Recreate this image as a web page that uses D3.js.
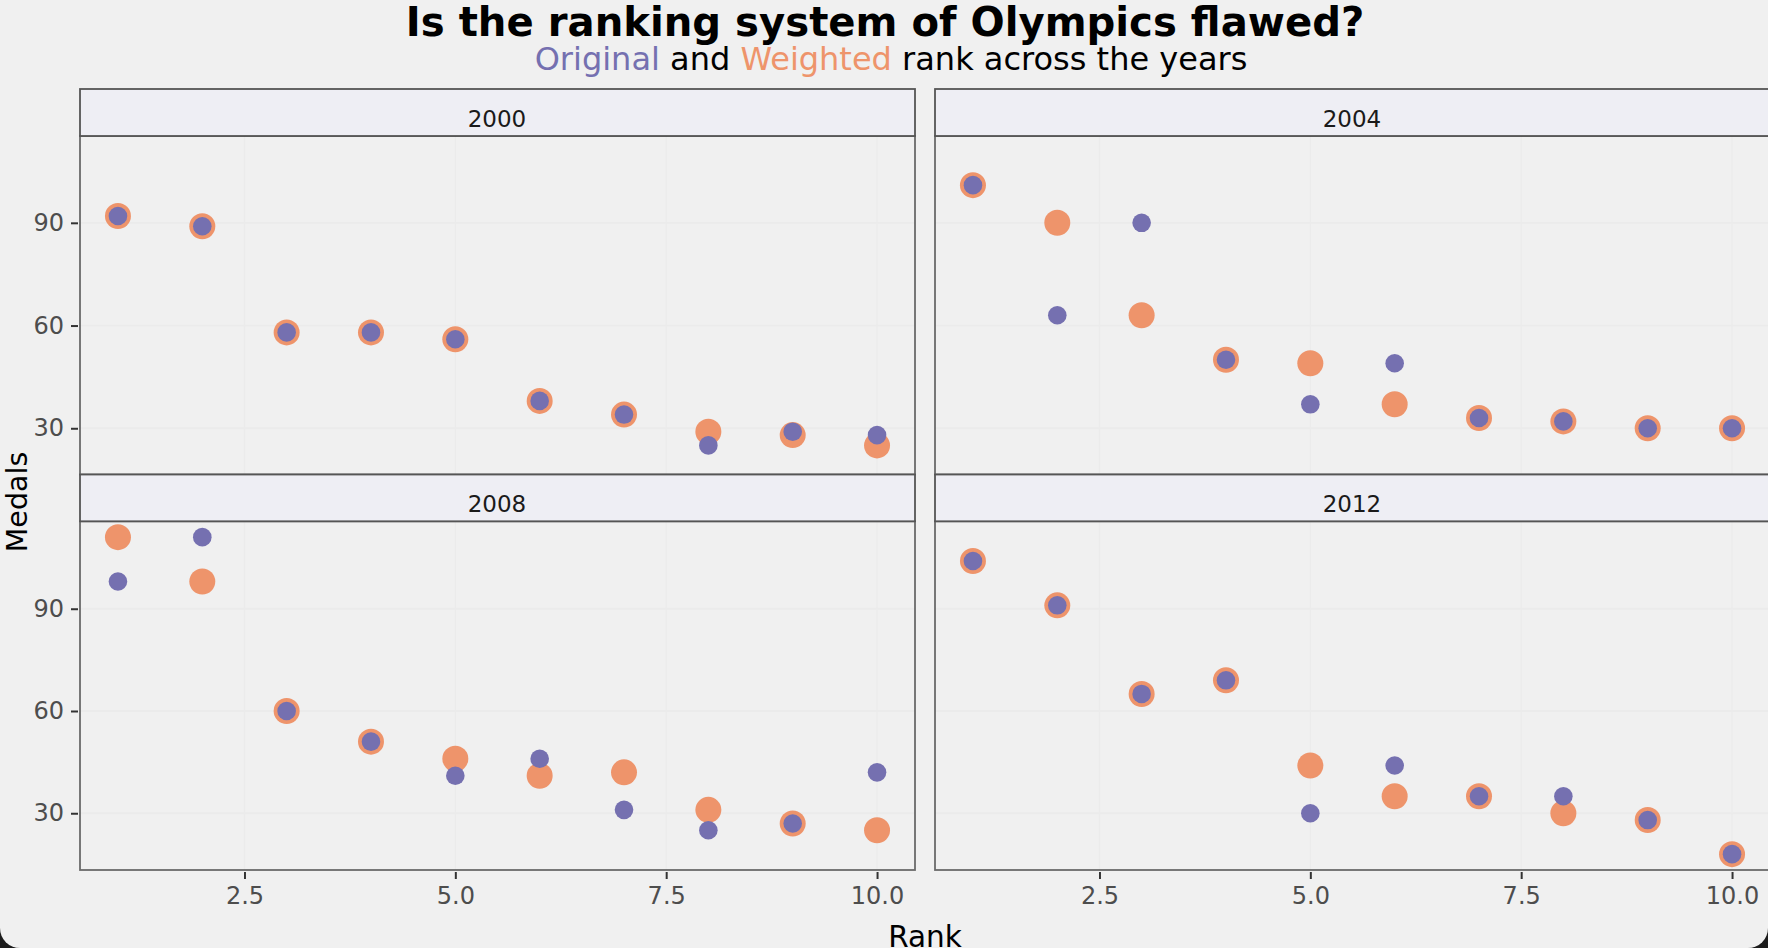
<!DOCTYPE html>
<html>
<head>
<meta charset="utf-8">
<script src="https://cdn.jsdelivr.net/npm/d3@7"></script>
<style>
html,body{margin:0;padding:0;background:#222;overflow:hidden}
svg{display:block}
text{font-family:"DejaVu Sans",sans-serif}
</style>
</head>
<body>
<svg id="chart" width="1768" height="948"></svg>
<script>
const years = ["2000", "2004", "2008", "2012"];
const ranks = [1, 2, 3, 4, 5, 6, 7, 8, 9, 10];
const original2000 = [92, 89, 58, 58, 56, 38, 34, 25, 29, 28];
const weighted2000 = [92, 89, 58, 58, 56, 38, 34, 29, 28, 25];
const original2004 = [101, 63, 90, 50, 37, 49, 33, 32, 30, 30];
const weighted2004 = [101, 90, 63, 50, 49, 37, 33, 32, 30, 30];
const original2008 = [98, 111, 60, 51, 41, 46, 31, 25, 27, 42];
const weighted2008 = [111, 98, 60, 51, 46, 41, 42, 31, 27, 25];
const original2012 = [104, 91, 65, 69, 30, 44, 35, 35, 28, 18];
const weighted2012 = [104, 91, 65, 69, 44, 35, 35, 30, 28, 18];
const xTicks = [2.5, 5, 7.5, 10];
const yTicks = [30, 60, 90];
const originalSeries = [original2000, original2004, original2008, original2012];
const weightedSeries = [weighted2000, weighted2004, weighted2008, weighted2012];

const C_ORIG = "#7570b0", C_WEIGHT = "#ee946b", BG = "#f0f0f0";
const svg = d3.select("#chart");
svg.append("rect").attr("width", 1768).attr("height", 948).attr("fill", "#1c1c1c");
svg.append("rect").attr("x", 0).attr("y", -30).attr("width", 1768).attr("height", 978).attr("rx", 20).attr("fill", BG);

const colX = [80, 935], panelW = 835;
const rows = [
  {stripTop: 89, stripBot: 136, bot: 474.5, dom: [16.5, 115.35]},
  {stripTop: 474.5, stripBot: 521.3, bot: 870, dom: [13.35, 115.65]}
];

years.forEach((yr, i) => {
  const col = i % 2, row = rows[Math.floor(i / 2)], isBottom = i >= 2, isLeft = col === 0;
  const x0 = colX[col], x1 = x0 + panelW;
  const x = d3.scaleLinear().domain([0.55, 10.45]).range([x0, x1]);
  const y = d3.scaleLinear().domain(row.dom).range([row.bot, row.stripBot]);
  const g = svg.append("g");

  g.append("g").selectAll("line").data(xTicks).join("line")
    .attr("x1", d => x(d)).attr("x2", d => x(d)).attr("y1", row.stripBot).attr("y2", row.bot)
    .attr("stroke", "#ebebeb").attr("stroke-width", 1.3);
  g.append("g").selectAll("line").data(yTicks).join("line")
    .attr("x1", x0).attr("x2", x1).attr("y1", d => y(d)).attr("y2", d => y(d))
    .attr("stroke", "#ebebeb").attr("stroke-width", 1.8);

  const pts = ranks.map((r, k) => ({r, o: originalSeries[i][k], w: weightedSeries[i][k]}));
  g.append("g").selectAll("circle").data(pts).join("circle")
    .attr("cx", d => x(d.r)).attr("cy", d => y(d.w)).attr("r", 13).attr("fill", C_WEIGHT);
  g.append("g").selectAll("circle").data(pts).join("circle")
    .attr("cx", d => x(d.r)).attr("cy", d => y(d.o)).attr("r", 9.3).attr("fill", C_ORIG);

  g.append("rect").attr("x", x0).attr("y", row.stripBot).attr("width", panelW).attr("height", row.bot - row.stripBot)
    .attr("fill", "none").attr("stroke", "#6a6a6a").attr("stroke-width", 1.8);
  g.append("rect").attr("x", x0).attr("y", row.stripTop).attr("width", panelW).attr("height", row.stripBot - row.stripTop)
    .attr("fill", "#eeeef4").attr("stroke", "#555").attr("stroke-width", 1.8);
  g.append("text").attr("x", (x0 + x1) / 2 - 0.5).attr("y", (row.stripTop + row.stripBot) / 2 + 14)
    .attr("text-anchor", "middle").attr("font-size", 23).attr("fill", "#1a1a1a").text(yr);

  if (isLeft) {
    const ax = g.append("g").attr("transform", `translate(${x0 - 2},0)`)
      .call(d3.axisLeft(y).tickValues(yTicks).tickSize(7).tickPadding(7).tickFormat(d3.format("d")));
    ax.select(".domain").remove();
    ax.selectAll("line").attr("stroke", "#333").attr("stroke-width", 2);
    ax.selectAll("text").attr("font-size", 24).attr("fill", "#4d4d4d").attr("font-family", "DejaVu Sans");
  }
  if (isBottom) {
    const ax = g.append("g").attr("transform", `translate(0,${row.bot + 2})`)
      .call(d3.axisBottom(x).tickValues(xTicks).tickSize(7).tickPadding(8).tickFormat(d3.format(".1f")));
    ax.select(".domain").remove();
    ax.selectAll("line").attr("stroke", "#333").attr("stroke-width", 2);
    ax.selectAll("text").attr("font-size", 24).attr("fill", "#4d4d4d").attr("font-family", "DejaVu Sans");
  }
});

svg.append("text").attr("x", 885).attr("y", 36).attr("text-anchor", "middle")
  .attr("font-size", 40.2).attr("font-weight", "bold").attr("fill", "#000")
  .text("Is the ranking system of Olympics flawed?");
const sub = svg.append("text").attr("x", 891).attr("y", 70).attr("text-anchor", "middle")
  .attr("font-size", 32).attr("fill", "#000");
sub.append("tspan").attr("fill", C_ORIG).text("Original");
sub.append("tspan").text(" and ");
sub.append("tspan").attr("fill", C_WEIGHT).text("Weighted");
sub.append("tspan").text(" rank across the years");

svg.append("text").attr("x", 925).attr("y", 946.5).attr("text-anchor", "middle")
  .attr("font-size", 29.5).attr("fill", "#000").text("Rank");
svg.append("text").attr("transform", "translate(26.5,502) rotate(-90)").attr("text-anchor", "middle")
  .attr("font-size", 28.5).attr("fill", "#000").text("Medals");
</script>
</body>
</html>
